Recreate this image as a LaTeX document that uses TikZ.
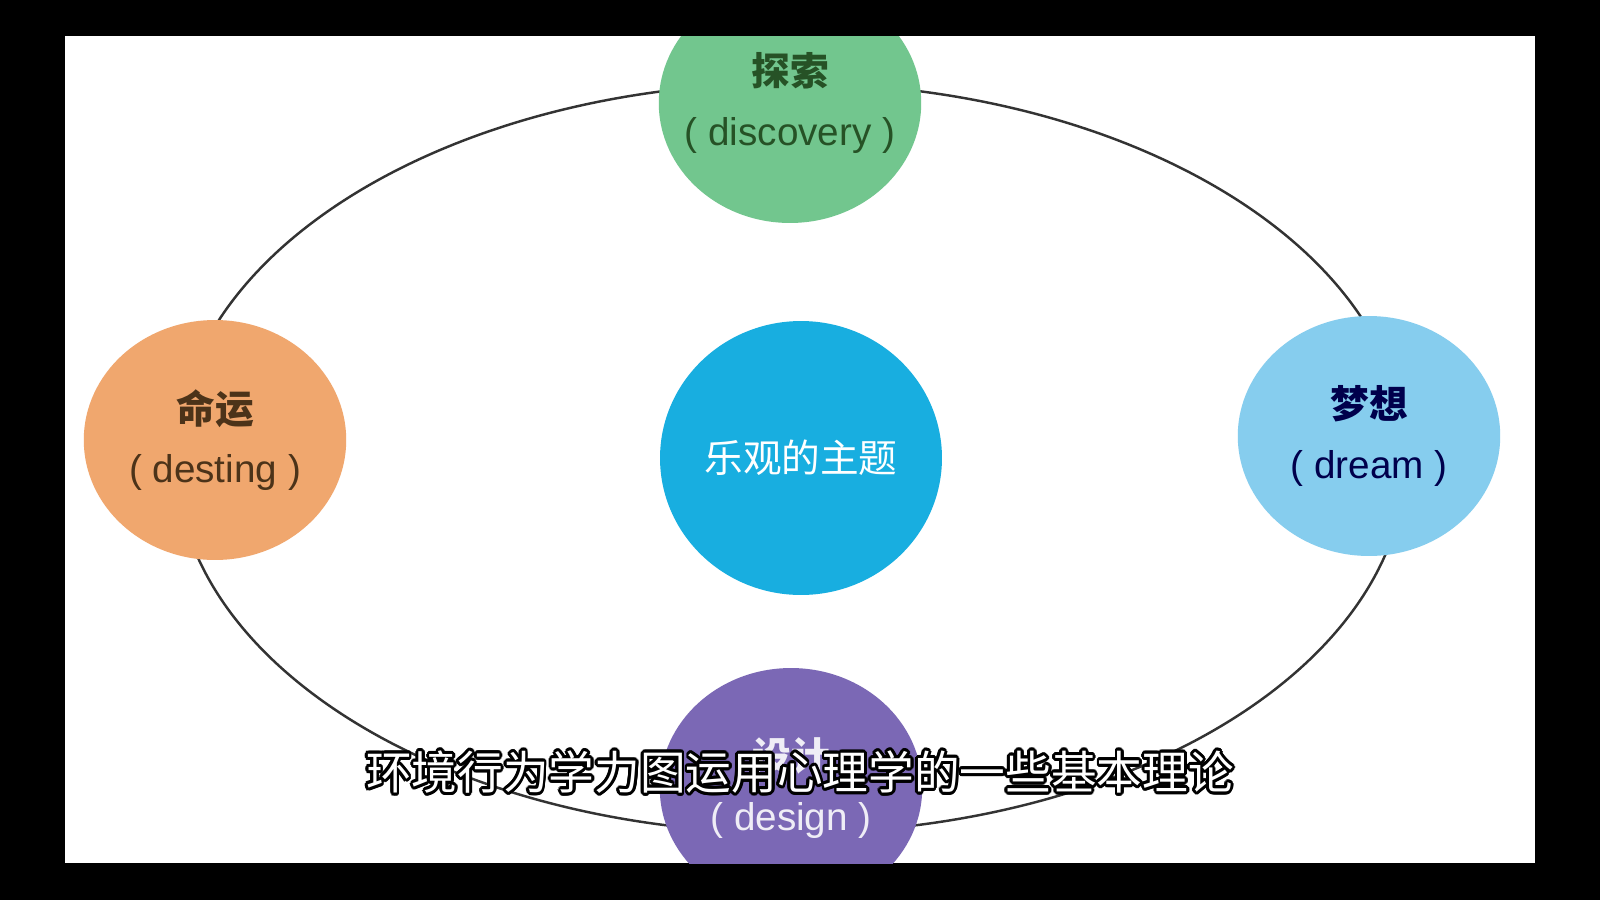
\documentclass[tikz,border=0pt]{standalone}
\usepackage{fontspec}
\setmainfont{Liberation Sans}
\newfontfamily\cjk{Noto Sans CJK SC}
\usetikzlibrary{shapes.geometric}

\definecolor{discoverygreen}{HTML}{72C68E}
\definecolor{destinyorange}{HTML}{F0A76E}
\definecolor{dreamblue}{HTML}{86CDEE}
\definecolor{designpurple}{HTML}{7B68B5}
\definecolor{themeblue}{HTML}{18AEE0}

\begin{document}
\begin{tikzpicture}[x=0.02cm, y=-0.02cm,
    bubble/.style={ellipse, inner xsep=-15pt, inner ysep=0pt, align=center,
      minimum width=5.25cm, minimum height=4.8cm,
      font=\fontsize{22}{34}\selectfont},
    subtitle/.style={inner sep=0pt, font=\cjk\fontsize{26}{30}\selectfont}]
  \useasboundingbox (0, 0) rectangle (1600, 900);

  % Frame
  \fill[black] (0, 0) rectangle (1600, 900);
  \fill[white] (65, 36) rectangle (1535, 863);

  \begin{scope}
    \clip (65, 36) rectangle (1535, 863);

    % Outer ellipse
    \draw[line width=1.4pt, black!80] (791, 458) ellipse [x radius=615, y radius=375];

    % Centre
    \node[bubble, fill=themeblue, text=white, minimum width=5.64cm, minimum height=5.48cm]
      (theme) at (801, 458) {\cjk 乐观的主题};

    % Four bubbles round the ellipse
    \node[bubble, fill=discoverygreen, text=green!20!black!85] (discovery) at (790, 103)
      {{\cjk\bfseries 探索}\\( discovery )};
    \node[bubble, fill=destinyorange, text=brown!40!black] (destiny) at (215, 440)
      {{\cjk\bfseries 命运}\\( desting )};
    \node[bubble, fill=dreamblue, text=blue!30!black] (dream) at (1369, 436)
      {{\cjk\bfseries 梦想}\\( dream )};
    \node[bubble, fill=designpurple, text=white!88!designpurple] (design) at (791, 788)
      {{\cjk\bfseries 设计}\\( design )};
  \end{scope}

  % Subtitle with outline
  \foreach \a [count=\i] in {0, 22.5, ..., 337.5}
    \node[subtitle, text=black, shift={(\a:2.8)}] (outline\i) at (800, 772)
      {环境行为学力图运用心理学的一些基本理论};
  \node[subtitle, text=white] (caption) at (800, 772) {环境行为学力图运用心理学的一些基本理论};
\end{tikzpicture}
\end{document}
